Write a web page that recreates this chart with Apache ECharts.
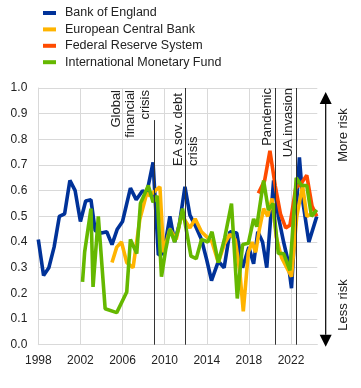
<!DOCTYPE html>
<html>
<head>
<meta charset="utf-8">
<script src="https://cdn.jsdelivr.net/npm/echarts@6/dist/echarts.min.js"></script>
<style>
html,body{margin:0;padding:0;background:#fff;}
#chart{width:361px;height:388px;}
</style>
</head>
<body>
<div id="chart"></div>
<script>
// series names
var names = ['Bank of England', 'European Central Bank', 'Federal Reserve System', 'International Monetary Fund'];

// [year, value]
var boe = [[1998.0,0.41],[1998.5,0.27],[1999.0,0.30],[1999.5,0.38],[2000.0,0.50],[2000.5,0.51],[2001.0,0.64],[2001.5,0.60],
  [2002.0,0.48],[2002.5,0.56],[2003.0,0.565],[2003.4,0.445],[2004.0,0.435],[2004.5,0.44],[2005.0,0.39],[2005.5,0.45],
  [2006.0,0.48],[2006.75,0.61],[2007.3,0.565],[2007.9,0.60],[2008.3,0.59],[2008.9,0.71],[2009.4,0.35],[2009.9,0.355],
  [2010.5,0.50],[2010.95,0.40],[2011.4,0.47],[2011.93,0.615],[2012.4,0.505],[2012.9,0.465],[2013.5,0.41],[2014.0,0.33],
  [2014.45,0.25],[2015.1,0.325],[2015.65,0.30],[2016.2,0.44],[2016.85,0.435],[2017.4,0.30],[2018.0,0.38],[2018.45,0.315],
  [2018.85,0.44],[2019.3,0.40],[2019.7,0.30],[2020.35,0.64],[2020.8,0.50],[2021.3,0.40],[2021.7,0.33],[2022.05,0.22],
  [2022.8,0.73],[2023.15,0.55],[2023.7,0.40],[2024.45,0.50]];
var ecb = [[2005.0,0.32],[2005.45,0.38],[2005.9,0.40],[2006.4,0.32],[2007.0,0.30],[2007.65,0.49],[2008.3,0.59],[2008.6,0.58],
  [2009.1,0.60],[2009.55,0.615],[2009.9,0.36],[2010.5,0.45],[2011.1,0.41],[2011.6,0.505],[2012.4,0.455],[2012.9,0.49],
  [2013.5,0.44],[2014.0,0.42],[2014.5,0.40],[2015.1,0.32],[2015.7,0.395],[2016.2,0.43],[2016.7,0.41],[2017.15,0.28],
  [2017.47,0.13],[2017.95,0.36],[2018.3,0.40],[2018.65,0.36],[2019.0,0.45],[2019.4,0.53],[2019.8,0.50],[2020.2,0.57],
  [2020.6,0.42],[2021.1,0.34],[2021.6,0.30],[2022.05,0.265],[2022.55,0.50],[2023.1,0.62],[2023.5,0.50],[2023.95,0.51],
  [2024.45,0.51]];
var fed = [[2018.9,0.59],[2019.5,0.64],[2020.0,0.755],[2020.5,0.62],[2021.0,0.51],[2021.5,0.455],[2021.9,0.465],
  [2022.45,0.61],[2023.0,0.63],[2023.5,0.66],[2024.0,0.54],[2024.45,0.50]];
var imf = [[2002.2,0.245],[2002.4,0.36],[2003.0,0.53],[2003.2,0.225],[2003.7,0.50],[2004.35,0.14],[2005.45,0.125],
  [2006.4,0.205],[2006.75,0.41],[2007.35,0.355],[2007.7,0.55],[2008.45,0.62],[2008.9,0.555],[2009.3,0.58],[2009.7,0.265],
  [2010.1,0.37],[2010.5,0.45],[2010.95,0.40],[2011.3,0.45],[2011.7,0.53],[2012.5,0.345],[2013.0,0.335],[2013.5,0.41],
  [2014.1,0.40],[2014.5,0.44],[2015.1,0.32],[2015.7,0.415],[2016.35,0.55],[2016.9,0.18],[2017.4,0.39],[2017.95,0.395],
  [2018.45,0.49],[2018.75,0.46],[2019.4,0.64],[2019.85,0.525],[2020.3,0.55],[2020.8,0.355],[2021.3,0.355],[2021.9,0.29],
  [2022.5,0.65],[2023.0,0.62],[2023.5,0.62],[2023.95,0.50],[2024.45,0.525]];

// events: [year, top of line, label lines]
var events = [
  {x: 2009.0, top: 0.875, lines: ['Global', 'financial', 'crisis']},
  {x: 2012.0, top: 1.0, lines: ['EA sov. debt', 'crisis']},
  {x: 2020.5, top: 1.0, lines: ['Pandemic']},
  {x: 2022.5, top: 1.0, lines: ['UA invasion']}
];

var xTicks = [1998, 2002, 2006, 2010, 2014, 2018, 2022];
var colors = ['#003299', '#FFB400', '#FF4B00', '#65B800'];
var txt = '#222';
var font = '"Liberation Sans", Arial, sans-serif';

var myChart = echarts.init(document.getElementById('chart'));

function mkLine(name, data, color) {
  return {
    name: name, type: 'line', data: data, symbol: 'none', z: 3,
    lineStyle: {color: color, width: 3.6}, itemStyle: {color: color}
  };
}

var eventLines = [];
events.forEach(function (e) {
  eventLines.push([{coord: [e.x, 0]}, {coord: [e.x, e.top]}]);
});

var series = [
  mkLine(names[0], boe, colors[0]),
  mkLine(names[1], ecb, colors[1]),
  mkLine(names[2], fed, colors[2]),
  mkLine(names[3], imf, colors[3]),
  {
    type: 'line', data: [], silent: true, z: 4,
    markLine: {
      symbol: 'none', silent: true, animation: false,
      label: {show: false},
      lineStyle: {color: '#333', width: 1, type: 'solid'},
      data: eventLines
    }
  }
];

var option = {
  animation: false,
  color: colors,
  textStyle: {fontFamily: font},
  grid: {left: 38.3, right: 43.7, top: 88, bottom: 43.3},
  legend: {
    data: names, orient: 'vertical', left: 38, top: 1,
    icon: 'rect', itemWidth: 13, itemHeight: 4, itemGap: 2.4,
    textStyle: {fontSize: 12.5, color: txt, lineHeight: 14, padding: [0, 0, 0, 4], fontFamily: font}
  },
  xAxis: {
    type: 'value', min: 1998, max: 2024.5, interval: 4,
    axisLine: {show: true, lineStyle: {color: '#d9d9d9'}},
    axisTick: {show: false},
    splitLine: {show: true, showMinLine: false, showMaxLine: false, lineStyle: {color: '#d9d9d9'}},
    axisLabel: {
      color: txt, fontSize: 12, margin: 10, showMaxLabel: false,
      formatter: function (v) { return xTicks.indexOf(v) >= 0 ? String(v) : ''; }
    }
  },
  yAxis: {
    type: 'value', min: 0, max: 1, interval: 0.1,
    axisLine: {show: true, lineStyle: {color: '#d9d9d9'}},
    axisTick: {show: false},
    splitLine: {lineStyle: {color: '#d9d9d9'}},
    axisLabel: {color: txt, fontSize: 12, margin: 11, formatter: function (v) { return v.toFixed(1); }}
  },
  series: series
};
myChart.setOption(option);

// annotation texts and the risk arrow
var g = [];
var topY = myChart.convertToPixel({gridIndex: 0}, [1998, 1.0])[1];
var botY = myChart.convertToPixel({gridIndex: 0}, [1998, 0])[1];
var annFont = '13px ' + font;
function vText(x, y, s, align) {
  g.push({
    type: 'text', x: x, y: y, rotation: Math.PI / 2,
    style: {text: s, font: annFont, fill: txt, align: align, verticalAlign: 'middle'}
  });
}
events.forEach(function (e, i) {
  var px = myChart.convertToPixel({gridIndex: 0}, [e.x, 0])[0];
  if (i === 0) {
    vText(px - 38, topY + 2, e.lines[0], 'right');
    vText(px - 24, topY + 2, e.lines[1], 'right');
    vText(px - 9, topY + 2, e.lines[2], 'right');
  } else if (i === 1) {
    vText(px - 7.5, topY + 78, e.lines[0], 'left');
    vText(px + 7.5, topY + 78, e.lines[1], 'left');
  } else {
    vText(px - 8, topY, e.lines[0], 'right');
  }
});

var ax = 325.7;
g.push({type: 'line', shape: {x1: ax, y1: topY + 12, x2: ax, y2: botY - 10}, style: {stroke: '#000', lineWidth: 1.2}});
g.push({type: 'polygon', shape: {points: [[ax, topY + 4], [ax - 6, topY + 16], [ax + 6, topY + 16]]}, style: {fill: '#000'}});
g.push({type: 'polygon', shape: {points: [[ax, botY + 2], [ax - 6, botY - 10], [ax + 6, botY - 10]]}, style: {fill: '#000'}});
g.push({type: 'text', x: 343, y: 135, rotation: Math.PI / 2,
  style: {text: 'More risk', font: annFont, fill: txt, align: 'center', verticalAlign: 'middle'}});
g.push({type: 'text', x: 343, y: 305, rotation: Math.PI / 2,
  style: {text: 'Less risk', font: annFont, fill: txt, align: 'center', verticalAlign: 'middle'}});

myChart.setOption({graphic: g});
</script>
</body>
</html>
